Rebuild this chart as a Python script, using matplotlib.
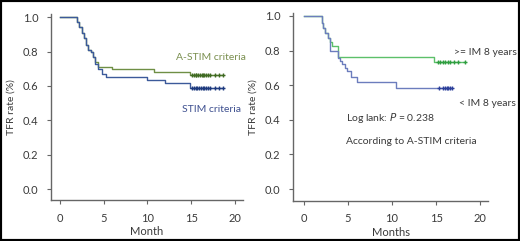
import matplotlib
matplotlib.use('Agg')
import matplotlib.pyplot as plt
from matplotlib.patches import Rectangle

plt.rcParams['font.family'] = ['Lato', 'DejaVu Sans']

# left panel: A-STIM vs STIM criteria
astim_t = [0, 1.9, 2.2, 2.5, 2.8, 3.0, 3.2, 3.5, 3.8, 4.0, 4.3, 5.9, 10.7, 14.9, 18.6]
astim_s = [1.0, 0.97, 0.94, 0.91, 0.88, 0.84, 0.81, 0.80, 0.77, 0.74, 0.711, 0.696, 0.68, 0.665, 0.665]
astim_cens = [15.1, 15.3, 15.5, 15.6, 15.8, 16.0, 16.2, 16.4, 16.5, 16.7, 16.9, 17.2, 17.7, 18.2, 18.6]

stim_t = [0, 1.9, 2.2, 2.5, 2.8, 3.0, 3.2, 3.5, 3.8, 4.0, 4.4, 4.8, 5.3, 9.9, 12.0, 14.9, 18.6]
stim_s = [1.0, 0.97, 0.94, 0.91, 0.88, 0.84, 0.81, 0.80, 0.77, 0.73, 0.70, 0.67, 0.649, 0.634, 0.618, 0.589, 0.589]
stim_cens = [15.1, 15.3, 15.5, 15.7, 15.9, 16.1, 16.3, 16.5, 16.7, 16.9, 17.2, 17.7, 18.2, 18.6]

# right panel: IM duration
ge8_t = [0, 2.0, 2.2, 2.4, 2.7, 2.9, 3.2, 3.9, 14.8, 18.3]
ge8_s = [1.0, 0.96, 0.93, 0.90, 0.87, 0.85, 0.826, 0.765, 0.736, 0.736]
ge8_cens = [15.2, 15.5, 15.8, 16.0, 16.3, 16.6, 17.0, 17.5, 18.3]

lt8_t = [0, 2.0, 2.2, 2.4, 2.7, 3.0, 3.9, 4.1, 4.3, 4.6, 4.9, 5.3, 6.0, 10.5, 16.8]
lt8_s = [1.0, 0.96, 0.93, 0.90, 0.87, 0.80, 0.76, 0.74, 0.72, 0.70, 0.68, 0.65, 0.62, 0.586, 0.586]
lt8_cens = [15.3, 15.8, 16.0, 16.2, 16.4, 16.6, 16.8]

yticks = [0.0, 0.2, 0.4, 0.6, 0.8, 1.0]
xticks = [0, 5, 10, 15, 20]

axis_col = '#666666'
text_col = '#3a3a3a'


def style(ax, xlim, ylim, xlabel):
    ax.set_xlim(*xlim)
    ax.set_ylim(*ylim)
    ax.spines['top'].set_visible(False)
    ax.spines['right'].set_visible(False)
    for s in ['left', 'bottom']:
        ax.spines[s].set_color(axis_col)
        ax.spines[s].set_linewidth(1.0)
    ax.set_xticks(xticks)
    ax.set_yticks(yticks)
    ax.set_yticklabels([f'{v:.1f}' for v in yticks])
    ax.tick_params(colors=axis_col, labelcolor=text_col, labelsize=8, length=3, width=0.8, pad=6)
    ax.set_xlabel(xlabel, fontsize=8, color=text_col, labelpad=2)
    ax.set_ylabel('TFR rate (%)', fontsize=7.5, color=text_col, labelpad=5)


def km(ax, t, s, cens, line_col, mark_col):
    ax.step(t, s, where='post', color=line_col, lw=1.0)
    cs = [s[max(i for i in range(len(t)) if t[i] <= c)] for c in cens]
    ax.plot(cens, cs, ls='none', marker='+', ms=3, mew=1.0, color=mark_col)


fig = plt.figure(figsize=(5.2, 2.41), dpi=100)

ax1 = fig.add_axes([0.098, 0.170, 0.369, 0.773])
km(ax1, astim_t, astim_s, astim_cens, '#6f8f45', '#3f6a22')
km(ax1, stim_t, stim_s, stim_cens, '#3c5a9a', '#1e3a7e')
style(ax1, (-1.03, 20.9), (-0.064, 1.02), 'Month')
ax1.text(17.3, 0.765, 'A-STIM criteria', color='#7a8f4f', fontsize=7.5, ha='center', va='center')
ax1.text(17.3, 0.46, 'STIM criteria', color='#3d4f8f', fontsize=7.5, ha='center', va='center')

ax2 = fig.add_axes([0.5635, 0.166, 0.375, 0.782])
km(ax2, ge8_t, ge8_s, ge8_cens, '#5cc06a', '#2f9e40')
km(ax2, lt8_t, lt8_s, lt8_cens, '#6c7dbd', '#2c3f9a')
style(ax2, (-1.25, 20.9), (-0.069, 1.02), 'Months')
ax2.text(20.6, 0.79, '>= IM 8 years', color=text_col, fontsize=7.5, ha='center', va='center')
ax2.text(20.8, 0.497, '< IM 8 years', color=text_col, fontsize=7.5, ha='center', va='center')
ax2.text(4.8, 0.41, 'Log lank: $\\it{P}$ = 0.238', color=text_col, fontsize=7.5, ha='left', va='center')
ax2.text(4.8, 0.272, 'According to A-STIM criteria', color=text_col, fontsize=7.5, ha='left', va='center')

fig.patches.append(Rectangle((0, 0), 1, 1, transform=fig.transFigure, fill=False,
                             edgecolor='black', lw=3, zorder=10))

fig.savefig('out.png', dpi=100)
